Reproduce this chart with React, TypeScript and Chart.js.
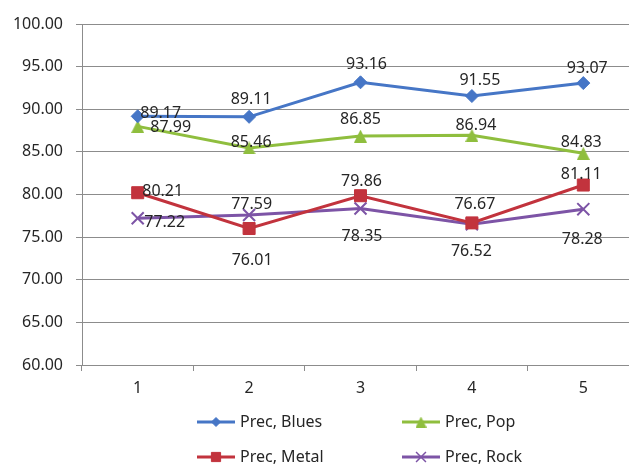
import React, { useEffect, useRef } from 'react';
import { Chart, registerables } from 'chart.js';
import { drawPoint } from 'chart.js/helpers';

Chart.register(...registerables);

// ---- data ----
const categories = ['1', '2', '3', '4', '5'];
const seriesNames = ['Prec, Blues', 'Prec, Pop', 'Prec, Metal', 'Prec, Rock'];
const bluesValues = [89.17, 89.11, 93.16, 91.55, 93.07];
const popValues = [87.99, 85.46, 86.85, 86.94, 84.83];
const metalValues = [80.21, 76.01, 79.86, 76.67, 81.11];
const rockValues = [77.22, 77.59, 78.35, 76.52, 78.28];
const yMin = 60;
const yMax = 100;
const yStep = 5;

// ---- style ----
const colors = ['#4676c6', '#8fbe3e', '#c2333d', '#7d54a6'];
const FONT_FAMILY = '"Noto Sans", "Open Sans", sans-serif';
const TEXT_COLOR = '#262626';
const GRID_COLOR = '#8c8c8c';

// data label offsets (label center relative to its point)
const labelOffsets = [
  [[23, -3], [2, -17.5], [6, -18], [8, -16], [4, -15]],
  [[33, 1], [2, -6], [0, -17], [4, -10], [-2, -11]],
  [[25, -1], [3, 31.5], [1, -14], [3, -18], [-2, -11]],
  [[27, 4.5], [2.5, -11], [1.5, 27.5], [-0.5, 27.4], [-1, 30]],
];

function makeTriangle(color: string, size: number) {
  const c = document.createElement('canvas');
  c.width = size;
  c.height = size;
  const g = c.getContext('2d')!;
  g.fillStyle = color;
  g.beginPath();
  g.moveTo(size / 2, 0);
  g.lineTo(size, size);
  g.lineTo(0, size);
  g.closePath();
  g.fill();
  return c;
}

export default function App() {
  const ref = useRef<HTMLCanvasElement | null>(null);

  useEffect(() => {
    if (!ref.current) return;
    const tri = makeTriangle(colors[1], 13);
    const triSmall = makeTriangle(colors[1], 11);

    const markerStyles: any[] = [
      { pointStyle: 'rectRot', radius: 6.5, borderWidth: 1 },
      { pointStyle: tri, radius: 7, borderWidth: 0 },
      { pointStyle: 'rect', radius: 8.5, borderWidth: 1 },
      { pointStyle: 'crossRot', radius: 8.5, borderWidth: 2 },
    ];
    const legendMarkers: any[] = [
      { pointStyle: 'rectRot', radius: 4.5, borderWidth: 1 },
      { pointStyle: triSmall, radius: 5.5, borderWidth: 0 },
      { pointStyle: 'rect', radius: 6.5, borderWidth: 1 },
      { pointStyle: 'crossRot', radius: 7, borderWidth: 1.5 },
    ];
    const legendCols = [197, 402];
    const legendRows = [422, 457];

    const seriesValues = [bluesValues, popValues, metalValues, rockValues];

    const overlay = {
      id: 'overlay',
      afterDatasetsDraw(chart: any) {
        const ctx = chart.ctx;
        ctx.save();
        ctx.font = `16px ${FONT_FAMILY}`;
        ctx.fillStyle = TEXT_COLOR;
        ctx.textAlign = 'center';
        ctx.textBaseline = 'middle';
        chart.data.datasets.forEach((ds: any, di: number) => {
          const meta = chart.getDatasetMeta(di);
          meta.data.forEach((pt: any, i: number) => {
            const [dx, dy] = labelOffsets[di][i];
            ctx.fillText(Number(ds.data[i]).toFixed(2), pt.x + dx, pt.y + dy);
          });
        });
        ctx.restore();
      },
      afterDraw(chart: any) {
        const ctx = chart.ctx;
        ctx.save();
        seriesNames.forEach((name, i) => {
          const x0 = legendCols[i % 2];
          const y = legendRows[Math.floor(i / 2)];
          ctx.strokeStyle = colors[i];
          ctx.lineWidth = 3;
          ctx.beginPath();
          ctx.moveTo(x0, y);
          ctx.lineTo(x0 + 38, y);
          ctx.stroke();
          const m = legendMarkers[i];
          ctx.fillStyle = colors[i];
          ctx.strokeStyle = colors[i];
          ctx.lineWidth = m.borderWidth || 1;
          drawPoint(ctx, { pointStyle: m.pointStyle, radius: m.radius, rotation: 0, borderWidth: m.borderWidth } as any, x0 + 19, y);
          ctx.font = `16px ${FONT_FAMILY}`;
          ctx.fillStyle = TEXT_COLOR;
          ctx.textAlign = 'left';
          ctx.textBaseline = 'middle';
          ctx.fillText(name, x0 + 43, y);
        });
        ctx.restore();
      },
    };

    const chart = new Chart(ref.current, {
      type: 'line',
      data: {
        labels: categories,
        datasets: seriesNames.map((name, i) => ({
          label: name,
          data: seriesValues[i],
          borderColor: colors[i],
          backgroundColor: colors[i],
          borderWidth: 3,
          tension: 0,
          fill: false,
          pointStyle: markerStyles[i].pointStyle,
          pointRadius: markerStyles[i].radius,
          pointBorderWidth: markerStyles[i].borderWidth,
          pointBackgroundColor: colors[i],
          pointBorderColor: colors[i],
        })),
      },
      options: {
        animation: false,
        responsive: false,
        devicePixelRatio: 1,
        events: [],
        layout: { padding: { left: 0, top: 24, right: 21, bottom: 75 } },
        plugins: { legend: { display: false }, tooltip: { enabled: false } },
        scales: {
          x: {
            type: 'category',
            offset: true,
            grid: {
              offset: true,
              drawOnChartArea: false,
              drawTicks: true,
              tickLength: 6,
              color: GRID_COLOR,
            },
            border: { color: GRID_COLOR },
            ticks: { font: { family: FONT_FAMILY, size: 16 }, color: TEXT_COLOR, padding: 8 },
            afterFit(s: any) {
              s.height = 40;
            },
          },
          y: {
            min: yMin,
            max: yMax,
            ticks: {
              stepSize: yStep,
              callback: (v: any) => Number(v).toFixed(2),
              font: { family: FONT_FAMILY, size: 16 },
              color: TEXT_COLOR,
              padding: 13,
            },
            grid: { color: GRID_COLOR, tickLength: 6 },
            border: { color: GRID_COLOR },
            afterFit(s: any) {
              s.width = 82;
            },
          },
        },
      } as any,
      plugins: [overlay],
    });
    return () => chart.destroy();
  }, []);

  return (
    <div
      style={{
        position: 'fixed',
        left: 0,
        top: 0,
        width: 629,
        height: 464,
        overflow: 'hidden',
        background: '#ffffff',
      }}
    >
      <canvas ref={ref} width={660} height={480} style={{ display: 'block', width: 660, height: 480 }} />
    </div>
  );
}
